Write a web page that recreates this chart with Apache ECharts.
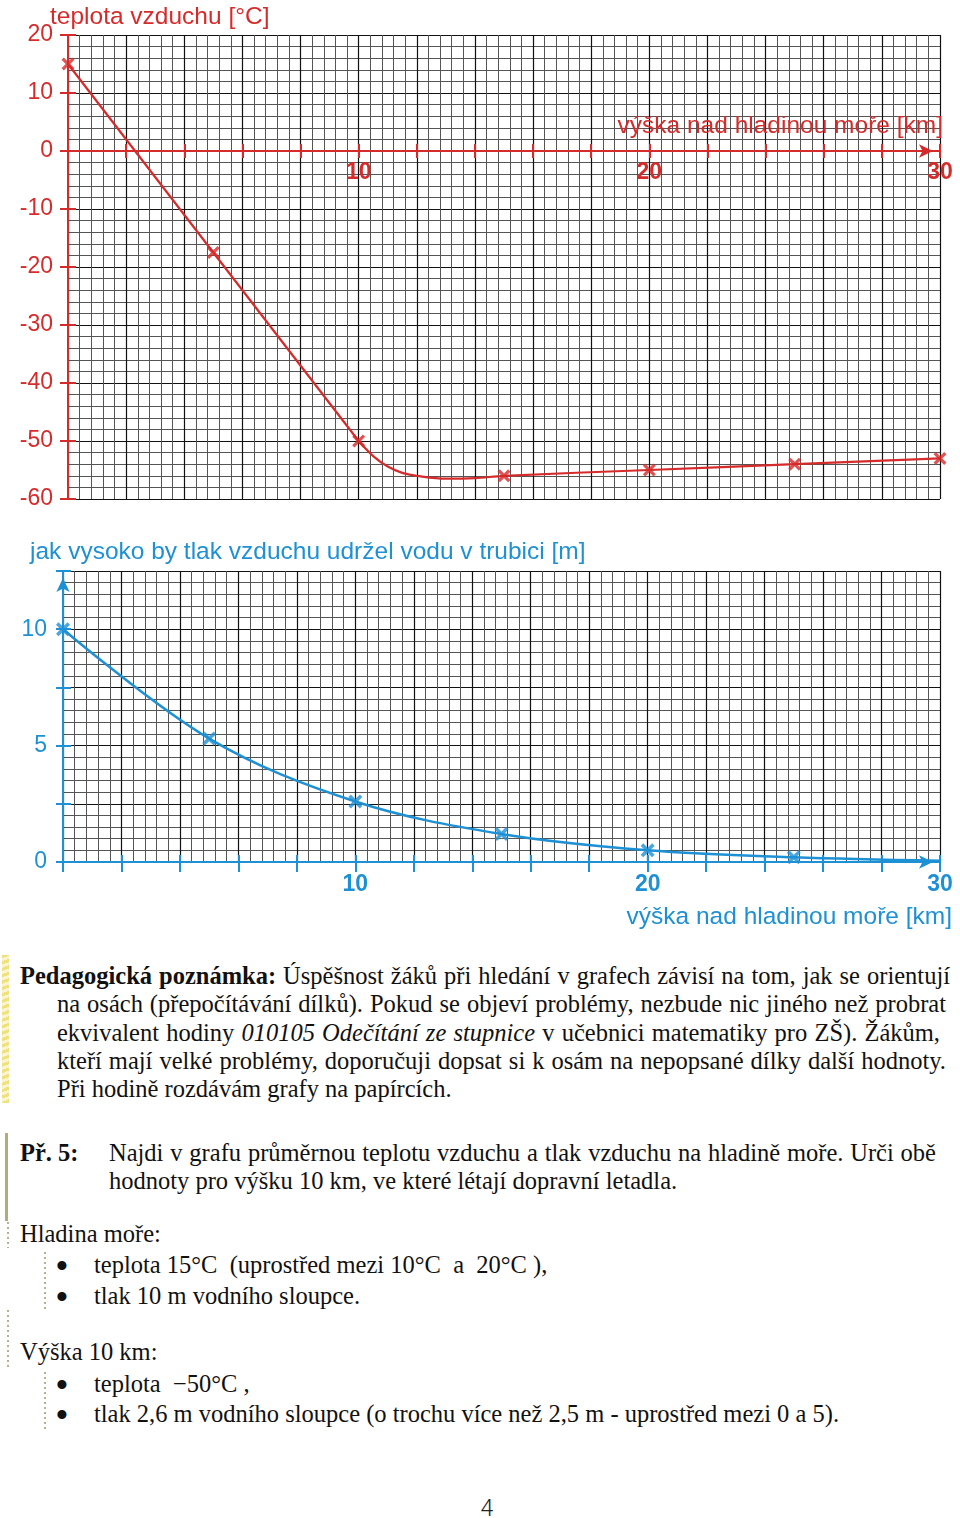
<!DOCTYPE html>
<html>
<head>
<meta charset="utf-8">
<script src="https://cdn.jsdelivr.net/npm/echarts/dist/echarts.min.js"></script>
<style>
body{margin:0;background:#fff;}
#page{position:relative;width:960px;height:1518px;overflow:hidden;background:#fff;}
#chart{position:absolute;left:0;top:0;width:960px;height:945px;}
.t{position:absolute;font-family:'Liberation Serif','Times New Roman',serif;font-size:24.5px;line-height:30px;color:#111;white-space:nowrap;}
.j{text-align:justify;text-align-last:justify;}
.b{position:absolute;font-family:'Liberation Serif',serif;font-size:38px;line-height:30px;color:#111;width:20px;text-align:center;}
.dash{position:absolute;width:2px;background:repeating-linear-gradient(to bottom,#b9ae96 0 2px,transparent 2px 5px);}
</style>
</head>
<body>
<div id="page">
<div id="chart"></div>

<div style="position:absolute;left:2px;top:955px;width:7px;height:148px;background:repeating-linear-gradient(160deg,#efe27e 0 3px,#fbf5cc 3px 6px);"></div>

<div class="t j" style="left:20px;top:961px;width:930px;"><b>Pedagogická poznámka:</b> Úspěšnost žáků při hledání v grafech závisí na tom, jak se orientují</div>
<div class="t j" style="left:57px;top:989.3px;width:889px;">na osách (přepočítávání dílků). Pokud se objeví problémy, nezbude nic jiného než probrat</div>
<div class="t j" style="left:57px;top:1017.6px;width:883px;">ekvivalent hodiny <i>010105 Odečítání ze stupnice</i> v učebnici matematiky pro ZŠ). Žákům,</div>
<div class="t j" style="left:57px;top:1045.9px;width:889px;">kteří mají velké problémy, doporučuji dopsat si k osám na nepopsané dílky další hodnoty.</div>
<div class="t" style="left:57px;top:1074.2px;">Při hodině rozdávám grafy na papírcích.</div>

<div style="position:absolute;left:5px;top:1133px;width:3px;height:88px;background:#b8aa78;"></div>
<div class="t" style="left:20px;top:1137.5px;"><b>Př. 5:</b></div>
<div class="t j" style="left:109px;top:1137.5px;width:827px;">Najdi v grafu průměrnou teplotu vzduchu a tlak vzduchu na hladině moře. Urči obě</div>
<div class="t" style="left:109px;top:1166px;">hodnoty pro výšku 10 km, ve které létají dopravní letadla.</div>

<div class="dash" style="left:7px;top:1222px;height:26px;"></div>
<div class="t" style="left:20px;top:1219px;">Hladina moře:</div>
<div class="dash" style="left:44px;top:1252px;height:58px;"></div>
<div class="b" style="left:52px;top:1251px;">•</div>
<div class="t" style="left:94px;top:1250px;">teplota 15°C&nbsp; (uprostřed mezi 10°C&nbsp; a&nbsp; 20°C ),</div>
<div class="b" style="left:52px;top:1282px;">•</div>
<div class="t" style="left:94px;top:1281px;">tlak 10 m vodního sloupce.</div>

<div class="dash" style="left:7px;top:1310px;height:57px;"></div>
<div class="t" style="left:20px;top:1337px;">Výška 10 km:</div>
<div class="dash" style="left:44px;top:1372px;height:58px;"></div>
<div class="b" style="left:52px;top:1370px;">•</div>
<div class="t" style="left:94px;top:1369px;">teplota&nbsp; −50°C ,</div>
<div class="b" style="left:52px;top:1400px;">•</div>
<div class="t" style="left:94px;top:1399px;">tlak 2,6 m vodního sloupce (o trochu více než 2,5 m - uprostřed mezi 0 a 5).</div>

<div style="position:absolute;left:467px;top:1496px;width:40px;text-align:center;font-family:Roboto,'Liberation Sans',sans-serif;font-weight:300;font-size:23px;line-height:26px;color:#222;">4</div>
</div>

<script>
// ---- data ----
const markerKm = [0, 5, 10, 15, 20, 25, 30];
const markerTempC = [15, -17.5, -50, -56, -55, -54, -53];
const descentKm = [0, 5, 10];
const descentTempC = [15, -17.5, -50];
const bendKm = [10, 10.5, 11, 11.5, 12, 13, 14, 15, 20, 25, 30];
const bendTempC = [-50, -52.6, -54.4, -55.5, -56.0, -56.5, -56.4, -56, -55, -54, -53];

const waterMarkerKm = [0, 5, 10, 15, 20, 25];
const waterMarkerM = [10, 5.3, 2.6, 1.2, 0.5, 0.2];
const waterLineKm = [0, 5, 10, 15, 20, 25, 30];
const waterLineM = [10, 5.3, 2.6, 1.2, 0.5, 0.2, 0.05];

const kmLabels = [10, 20, 30];
const tempLabels = [20, 10, 0, -10, -20, -30, -40, -50, -60];
const waterLabels = [0, 5, 10];

const tempTitle = 'teplota vzduchu [°C]';
const waterTitle = 'jak vysoko by tlak vzduchu udržel vodu v trubici [m]';
const altName = 'výška nad hladinou moře [km]';

// ---- style ----
const RED = '#d62b2b';
const BLUE = '#1e90d4';
const FONT = "'Liberation Sans', Arial, sans-serif";
const XMARK = 'path://M1.8,0L5,3.2L8.2,0L10,1.8L6.8,5L10,8.2L8.2,10L5,6.8L1.8,10L0,8.2L3.2,5L0,1.8Z';
// top chart: distance of the zero line above the grid bottom (grid height * 60/80)
const TOP_ZERO_OFFSET = -348;

const zip = (a, b) => a.map((v, i) => [v, b[i]]);

function xAxisDef(grid, color, main, tickLen, inside, labelMargin, offset) {
  return {
    type: 'value', gridIndex: grid, min: 0, max: 30, interval: 2, position: 'bottom', offset: offset,
    axisLine: { show: true, onZero: false, lineStyle: { color: color, width: 2 },
      symbol: main ? ['none', 'arrow'] : 'none', symbolSize: [10, 14], symbolOffset: [0, -7] },
    axisTick: { show: true, inside: inside, length: tickLen, lineStyle: { color: color, width: 2 } },
    axisLabel: { show: main, color: color, fontSize: 23, fontWeight: 'bold', fontFamily: FONT,
      margin: labelMargin, showMinLabel: true, showMaxLabel: true, hideOverlap: false,
      formatter: v => kmLabels.includes(v) ? String(v) : '' },
    splitLine: { show: main, lineStyle: { color: '#111', width: 1.2 } },
    minorTick: { show: false, splitNumber: 5 },
    minorSplitLine: { show: main, lineStyle: { color: '#555', width: 1 } },
    z: 5
  };
}
function yAxisDef(grid, color, main, min, max, interval, labels, tickLen, inside, labelMargin, arrow) {
  return {
    type: 'value', gridIndex: grid, min: min, max: max, interval: interval, position: 'left',
    axisLine: { show: true, onZero: false, lineStyle: { color: color, width: 2 },
      symbol: (main && arrow) ? ['none', 'arrow'] : 'none', symbolSize: [10, 14], symbolOffset: [0, -7] },
    axisTick: { show: true, inside: inside, length: tickLen, lineStyle: { color: color, width: 2 } },
    axisLabel: { show: main, color: color, fontSize: 23, fontFamily: FONT, margin: labelMargin,
      showMinLabel: true, showMaxLabel: true, hideOverlap: false,
      formatter: v => labels.includes(v) ? String(v) : '' },
    splitLine: { show: main, lineStyle: { color: '#111', width: 1.2 } },
    minorTick: { show: false, splitNumber: 5 },
    minorSplitLine: { show: main, lineStyle: { color: '#555', width: 1 } },
    z: 5
  };
}
function txt(text, x, y, color, align) {
  return { type: 'text', x: x, y: y, z: 10,
    style: { text: text, x: 0, y: 0, fill: color, font: '24.5px ' + FONT,
      align: align, textAlign: align, verticalAlign: 'middle', textVerticalAlign: 'middle' } };
}

const chart = echarts.init(document.getElementById('chart'), null, { renderer: 'canvas' });
chart.setOption({
  animation: false,
  backgroundColor: '#fff',
  grid: [
    { left: 68, top: 35, width: 872, height: 464, containLabel: false, outerBoundsMode: 'none' },
    { left: 63, top: 571, width: 877, height: 291, containLabel: false, outerBoundsMode: 'none' }
  ],
  xAxis: [
    xAxisDef(0, RED, true, 7, false, 10, TOP_ZERO_OFFSET),
    xAxisDef(0, RED, false, 7, true, 10, TOP_ZERO_OFFSET),
    xAxisDef(1, BLUE, true, 10, false, 11, 0),
    xAxisDef(1, BLUE, false, 7, true, 11, 0)
  ],
  yAxis: [
    yAxisDef(0, RED, true, -60, 20, 10, tempLabels, 8, false, 15, false),
    yAxisDef(0, RED, false, -60, 20, 10, tempLabels, 8, true, 15, false),
    yAxisDef(1, BLUE, true, 0, 12.5, 2.5, waterLabels, 7, false, 16, true),
    yAxisDef(1, BLUE, false, 0, 12.5, 2.5, waterLabels, 8, true, 16, true)
  ],
  graphic: [
    txt(tempTitle, 50, 17, RED, 'left'),
    txt(altName, 943, 126, RED, 'right'),
    txt(waterTitle, 30, 552, BLUE, 'left'),
    txt(altName, 952, 917, BLUE, 'right')
  ],
  series: [
    { type: 'line', xAxisIndex: 0, yAxisIndex: 0, data: zip(descentKm, descentTempC),
      symbol: 'none', lineStyle: { color: RED, width: 2.2 }, z: 6 },
    { type: 'line', xAxisIndex: 0, yAxisIndex: 0, data: zip(bendKm, bendTempC), smooth: 0.35,
      symbol: 'none', lineStyle: { color: RED, width: 2.2 }, z: 6 },
    { type: 'scatter', xAxisIndex: 0, yAxisIndex: 0, data: zip(markerKm, markerTempC),
      symbol: XMARK, symbolSize: 13, itemStyle: { color: RED }, z: 7 },
    { type: 'line', xAxisIndex: 2, yAxisIndex: 2, data: zip(waterLineKm, waterLineM), smooth: 0.35,
      symbol: 'none', lineStyle: { color: BLUE, width: 2.5 }, z: 6 },
    { type: 'scatter', xAxisIndex: 2, yAxisIndex: 2, data: zip(waterMarkerKm, waterMarkerM),
      symbol: XMARK, symbolSize: 14, itemStyle: { color: BLUE }, z: 7 }
  ]
});
</script>
</body>
</html>
